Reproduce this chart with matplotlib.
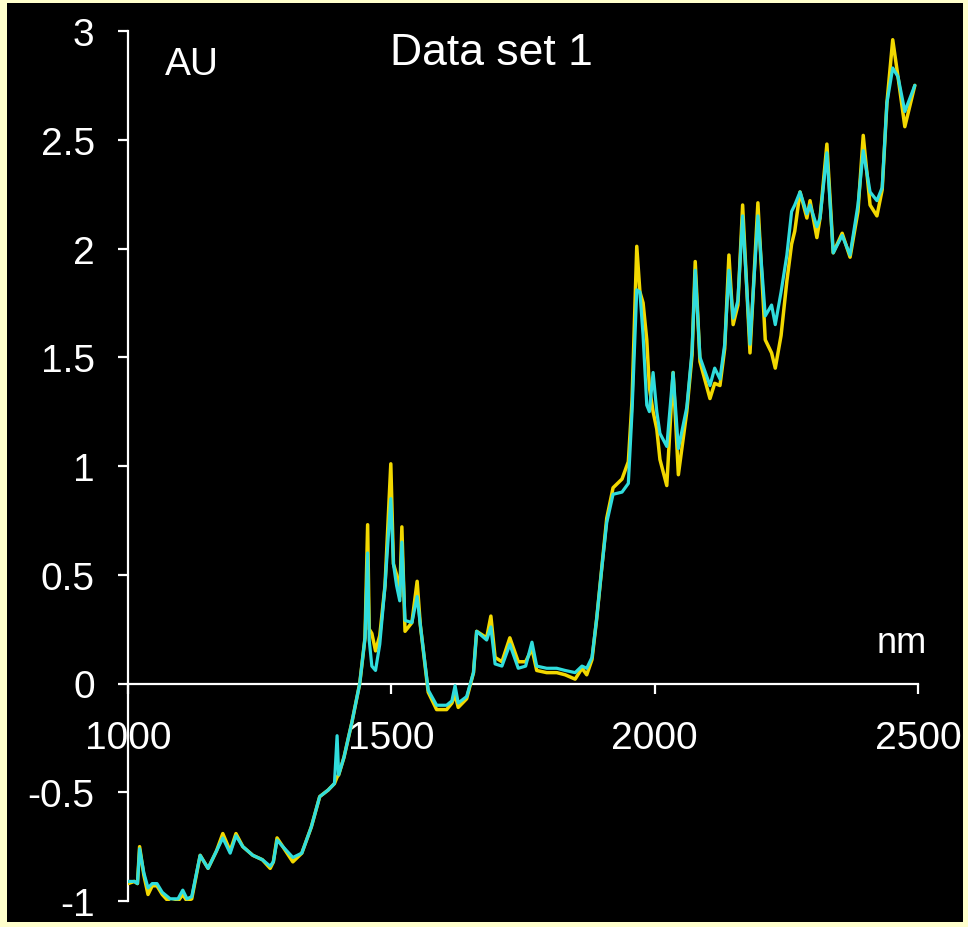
import matplotlib
matplotlib.use("Agg")
import matplotlib.pyplot as plt
from matplotlib.patches import Rectangle

# wavelength grid (nm) and absorbance (AU) of the two spectra
wavelength = [
    1000, 1012, 1018, 1022, 1030, 1038, 1046, 1055, 1065, 1080,
    1095, 1104, 1112, 1121, 1137, 1152, 1168, 1180, 1194, 1205,
    1218, 1237, 1255, 1270, 1276, 1283, 1294, 1313, 1330, 1348,
    1364, 1380, 1392, 1397, 1400, 1410, 1425, 1440, 1450, 1455,
    1458, 1463, 1470, 1478, 1488, 1499, 1504, 1510, 1516, 1520,
    1526, 1539, 1549, 1555, 1570, 1586, 1605, 1615, 1621, 1627,
    1643, 1656, 1662, 1681, 1689, 1697, 1710, 1725, 1741, 1755,
    1767, 1776, 1795, 1814, 1830, 1849, 1862, 1871, 1881, 1890,
    1900, 1909, 1921, 1938, 1950, 1957, 1966, 1972, 1978, 1985,
    1990, 1997, 2004, 2010, 2023, 2035, 2045, 2061, 2071, 2077,
    2086, 2105, 2114, 2124, 2133, 2141, 2149, 2158, 2167, 2181,
    2196, 2210, 2222, 2229, 2240, 2251, 2260, 2266, 2276, 2289,
    2295, 2308, 2314, 2327, 2339, 2356, 2371, 2386, 2396, 2409,
    2422, 2432, 2441, 2452, 2462, 2475, 2494,
]
spectrum_yellow = [
    -0.92, -0.91, -0.92, -0.75, -0.88, -0.97, -0.93, -0.93, -0.97, -1.01,
    -1.00, -0.97, -1.00, -0.99, -0.79, -0.85, -0.77, -0.69, -0.77, -0.69,
    -0.75, -0.79, -0.81, -0.85, -0.82, -0.71, -0.75, -0.82, -0.78, -0.66,
    -0.52, -0.49, -0.46, -0.43, -0.42, -0.34, -0.18, 0.00, 0.21, 0.73,
    0.25, 0.23, 0.15, 0.22, 0.45, 1.01, 0.55, 0.50, 0.40, 0.72,
    0.24, 0.28, 0.47, 0.27, -0.04, -0.12, -0.12, -0.09, -0.05, -0.11,
    -0.07, 0.05, 0.24, 0.21, 0.31, 0.12, 0.10, 0.21, 0.10, 0.10,
    0.16, 0.06, 0.05, 0.05, 0.04, 0.02, 0.07, 0.04, 0.11, 0.30,
    0.54, 0.76, 0.90, 0.94, 1.02, 1.30, 2.01, 1.80, 1.75, 1.58,
    1.36, 1.25, 1.17, 1.03, 0.91, 1.43, 0.96, 1.25, 1.51, 1.94,
    1.48, 1.31, 1.38, 1.37, 1.54, 1.97, 1.65, 1.74, 2.20, 1.52,
    2.21, 1.58, 1.52, 1.45, 1.60, 1.85, 2.02, 2.08, 2.26, 2.14,
    2.22, 2.05, 2.14, 2.48, 1.98, 2.07, 1.96, 2.17, 2.52, 2.20,
    2.15, 2.27, 2.67, 2.96, 2.79, 2.56, 2.75,
]
spectrum_cyan = [
    -0.91, -0.91, -0.92, -0.76, -0.87, -0.94, -0.92, -0.92, -0.96, -0.99,
    -0.99, -0.95, -0.99, -0.98, -0.79, -0.85, -0.77, -0.71, -0.78, -0.70,
    -0.75, -0.79, -0.81, -0.84, -0.82, -0.72, -0.75, -0.80, -0.78, -0.66,
    -0.52, -0.49, -0.46, -0.24, -0.42, -0.34, -0.18, 0.00, 0.21, 0.60,
    0.20, 0.08, 0.06, 0.18, 0.45, 0.85, 0.55, 0.45, 0.38, 0.65,
    0.29, 0.28, 0.40, 0.27, -0.03, -0.10, -0.10, -0.08, -0.01, -0.09,
    -0.06, 0.05, 0.24, 0.20, 0.26, 0.09, 0.08, 0.18, 0.07, 0.08,
    0.19, 0.08, 0.07, 0.07, 0.06, 0.05, 0.08, 0.07, 0.12, 0.30,
    0.54, 0.74, 0.87, 0.88, 0.92, 1.25, 1.81, 1.80, 1.60, 1.28,
    1.25, 1.43, 1.25, 1.15, 1.09, 1.43, 1.08, 1.27, 1.53, 1.90,
    1.50, 1.37, 1.45, 1.40, 1.56, 1.90, 1.68, 1.76, 2.15, 1.56,
    2.15, 1.69, 1.74, 1.65, 1.80, 1.97, 2.17, 2.20, 2.26, 2.16,
    2.20, 2.10, 2.14, 2.44, 1.98, 2.06, 1.97, 2.20, 2.45, 2.26,
    2.22, 2.28, 2.67, 2.83, 2.79, 2.63, 2.75,
]

x_ticks = [1000, 1500, 2000, 2500]
y_ticks = [-1, -0.5, 0, 0.5, 1, 1.5, 2, 2.5, 3]
y_tick_labels = ["-1", "-0.5", "0", "0.5", "1", "1.5", "2", "2.5", "3"]

plt.rcParams["font.family"] = ["Liberation Sans", "DejaVu Sans"]

fig = plt.figure(figsize=(9.68, 9.28), dpi=100)
fig.patch.set_facecolor("#FFFFCC")
# black panel inside the pale yellow frame
fig.add_artist(Rectangle((7 / 968, 5 / 928), 1 - 12 / 968, 1 - 9 / 928,
                         transform=fig.transFigure, facecolor="black",
                         edgecolor="none", zorder=0))

ax = fig.add_axes([128 / 968, 26 / 928, 790 / 968, 870 / 928])
ax.set_facecolor("none")

ax.plot(wavelength, spectrum_yellow, color="#F2D800", lw=2.5, zorder=3,
        solid_joinstyle="round", solid_capstyle="round")
ax.plot(wavelength, spectrum_cyan, color="#30DDDD", lw=2.3, zorder=4,
        solid_joinstyle="round", solid_capstyle="round")

ax.set_xlim(1000, 2500)
ax.set_ylim(-1, 3)

# axes: vertical at x=1000, horizontal through zero
ax.spines["right"].set_visible(False)
ax.spines["top"].set_visible(False)
ax.spines["left"].set_position(("data", 1000))
ax.spines["bottom"].set_position(("data", 0))
for s in ("left", "bottom"):
    ax.spines[s].set_color("white")
    ax.spines[s].set_linewidth(1.6)
    ax.spines[s].set_zorder(2)

ax.set_xticks(x_ticks)
ax.set_xticklabels([str(v) for v in x_ticks])
ax.set_yticks(y_ticks)
ax.set_yticklabels(y_tick_labels)
ax.tick_params(axis="y", direction="out", length=7, width=1.6, color="white",
               labelcolor="white", labelsize=28, pad=17)
ax.tick_params(axis="x", direction="out", length=7, width=1.6, color="white",
               labelcolor="white", labelsize=28, pad=19)

ax.text(0.047, 2.85, "AU", transform=ax.get_yaxis_transform(),
        color="white", fontsize=28, va="center", ha="left")
ax.text(1690, 2.90, "Data set 1", color="white", fontsize=32,
        va="center", ha="center")
ax.text(2470, 0.19, "nm", color="white", fontsize=26, va="center", ha="center")

fig.savefig("out.png", dpi=100, facecolor=fig.get_facecolor())
